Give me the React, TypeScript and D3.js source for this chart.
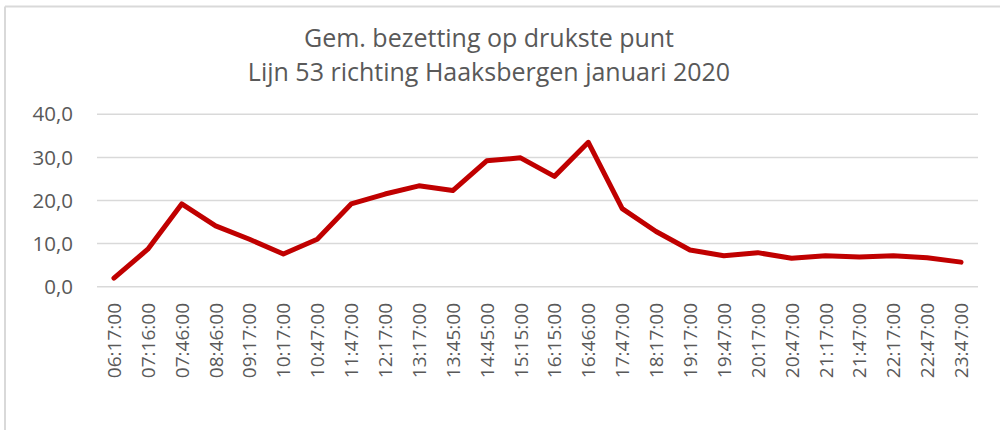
import React from "react";
import * as d3 from "d3";

const categories = ["06:17:00","07:16:00","07:46:00","08:46:00","09:17:00","10:17:00","10:47:00","11:47:00","12:17:00","13:17:00","13:45:00","14:45:00","15:15:00","16:15:00","16:46:00","17:47:00","18:17:00","19:17:00","19:47:00","20:17:00","20:47:00","21:17:00","21:47:00","22:17:00","22:47:00","23:47:00"];
const values = [2.0,8.7,19.2,14.1,11.0,7.6,11.0,19.2,21.5,23.4,22.3,29.2,29.9,25.6,33.5,18.1,12.8,8.5,7.2,7.9,6.6,7.2,6.9,7.2,6.7,5.7];
const yTicks = [0,10,20,30,40];
const titleLines = ["Gem. bezetting op drukste punt","Lijn 53 richting Haaksbergen januari 2020"];

export default function App() {
  const W = 1000, H = 430;
  const left = 97, right = 978, top = 114.3, bottom = 286.7;
  const x = d3.scaleBand<string>().domain(categories).range([left, right]);
  const y = d3.scaleLinear().domain([0, 40]).range([bottom, top]);
  const line = d3.line<number>()
    .x((_, i) => (x(categories[i]) as number) + x.bandwidth() / 2)
    .y(d => y(d));
  const font = "'Open Sans', 'Liberation Sans', sans-serif";
  return (
    <svg width={W} height={H} style={{ position: "absolute", left: 0, top: 0 }}>
      <rect x={0} y={0} width={W} height={H} fill="#fff" />
      <line x1={5} y1={6.5} x2={W} y2={6.5} stroke="#d9d9d9" strokeWidth={2} />
      <line x1={5} y1={6.5} x2={5} y2={H} stroke="#d9d9d9" strokeWidth={2} />
      {titleLines.map((t, i) => (
        <text key={i} x={489} y={47 + i * 34} textAnchor="middle" fontFamily={font} fontSize={25} fill="#595959">{t}</text>
      ))}
      {yTicks.map(t => (
        <g key={t}>
          <line x1={left} x2={right} y1={y(t)} y2={y(t)} stroke="#d9d9d9" strokeWidth={1.5} />
          <text x={73} y={y(t)} dy="0.35em" textAnchor="end" fontFamily={font} fontSize={20.5} fill="#595959">{d3.format(".1f")(t).replace(".", ",")}</text>
        </g>
      ))}
      {categories.map(c => {
        const cx = (x(c) as number) + x.bandwidth() / 2;
        return (
          <text key={c} transform={`translate(${cx + 7},${303}) rotate(-90)`} textAnchor="end" fontFamily={font} fontSize={19} fill="#595959">{c}</text>
        );
      })}
      <path d={line(values) || ""} fill="none" stroke="#c00000" strokeWidth={5} strokeLinejoin="round" strokeLinecap="round" />
    </svg>
  );
}
